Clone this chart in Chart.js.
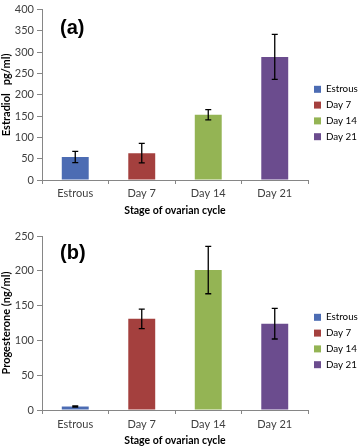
<!DOCTYPE html>
<html>
<head>
<meta charset="utf-8">
<script src="https://cdn.jsdelivr.net/npm/chart.js@4/dist/chart.umd.min.js"></script>
<style>
  body { margin: 0; background: #fff; }
  canvas { display: block; }
</style>
</head>
<body>
<canvas id="chart_a" width="360" height="220"></canvas>
<canvas id="chart_b" width="360" height="226"></canvas>
<script>
const stages = ["Estrous", "Day 7", "Day 14", "Day 21"];
const estradiol = [54, 63, 153, 289];
const estradiolErr = [13, 23, 12, 53];
const progesterone = [5, 131, 201, 124];
const progesteroneErr = [1, 14, 34, 22];
const barColors = ["#4C6CB3", "#A4403E", "#94B454", "#6B4C8E"];

const axisGray = "#868686";
const textGray = "#404040";
const fontFamily = "Lato, 'Open Sans', sans-serif";

// error bars, drawn from each bar's own position and the y scale
const errorBars = {
  id: "errorBars",
  afterDatasetsDraw(chart, args, opts) {
    const ctx = chart.ctx;
    const y = chart.scales.y;
    const meta = chart.getDatasetMeta(0);
    const values = chart.data.datasets[0].data;
    ctx.save();
    ctx.strokeStyle = "#000";
    ctx.lineWidth = 1.3;
    meta.data.forEach((bar, i) => {
      const e = opts.errors[i];
      const top = y.getPixelForValue(values[i] + e);
      const bot = y.getPixelForValue(values[i] - e);
      ctx.beginPath();
      ctx.moveTo(bar.x, top); ctx.lineTo(bar.x, bot);
      ctx.moveTo(bar.x - 3, top); ctx.lineTo(bar.x + 3, top);
      ctx.moveTo(bar.x - 3, bot); ctx.lineTo(bar.x + 3, bot);
      ctx.stroke();
    });
    ctx.restore();
  }
};

// "(a)" / "(b)" panel letters
const panelLabel = {
  id: "panelLabel",
  afterDraw(chart, args, opts) {
    const ctx = chart.ctx;
    ctx.save();
    ctx.font = "bold 20px 'Liberation Sans', Arial, sans-serif";
    ctx.fillStyle = "#000";
    ctx.textBaseline = "middle";
    ctx.fillText(opts.text, chart.chartArea.left + opts.dx, chart.chartArea.top + opts.dy);
    ctx.restore();
  }
};

function makeConfig(values, errors, yMax, yTitle, label, pad, xHeight, xTickPad, xTitlePad) {
  return {
    type: "bar",
    data: {
      labels: stages,
      datasets: [{
        data: values,
        backgroundColor: barColors,
        borderWidth: 0,
        categoryPercentage: 1,
        barPercentage: 0.405
      }]
    },
    options: {
      responsive: false,
      animation: false,
      layout: { padding: pad },
      plugins: {
        tooltip: { enabled: false },
        legend: {
          position: "right",
          align: "center",
          maxWidth: 52,
          onClick: null,
          labels: {
            boxWidth: 7,
            boxHeight: 7,
            padding: 6,
            color: textGray,
            font: { family: fontFamily, size: 9.8, lineHeight: 1.4 },
            generateLabels: (chart) => stages.map((s, i) => ({
              text: s,
              fillStyle: barColors[i],
              strokeStyle: barColors[i],
              lineWidth: 0,
              hidden: false,
              index: i
            }))
          }
        },
        errorBars: { errors: errors },
        panelLabel: label
      },
      scales: {
        x: {
          afterFit: (s) => { s.height = xHeight; },
          grid: { drawOnChartArea: false, tickLength: 4, color: axisGray },
          border: { color: axisGray },
          ticks: { color: textGray, padding: xTickPad, font: { family: fontFamily, size: 11 } },
          title: {
            display: true,
            text: "Stage of ovarian cycle",
            color: "#000",
            padding: { top: 0, bottom: xTitlePad },
            font: { family: fontFamily, size: 10.5, weight: "bold", lineHeight: 1 }
          }
        },
        y: {
          min: 0,
          max: yMax,
          afterFit: (s) => { s.width = 42; },
          grid: { drawOnChartArea: false, tickLength: 5, color: axisGray },
          border: { color: axisGray },
          ticks: { stepSize: 50, color: textGray, padding: 3, font: { family: fontFamily, size: 11 } },
          title: {
            display: true,
            text: yTitle,
            color: "#000",
            padding: 0,
            font: { family: fontFamily, size: 11, weight: "bold" }
          }
        }
      }
    },
    plugins: [errorBars, panelLabel]
  };
}

new Chart(document.getElementById("chart_a"),
  makeConfig(estradiol, estradiolErr, 400, "Estradiol   pg/ml)",
    { text: "(a)", dx: 18, dy: 19 }, { top: 6, bottom: 0 }, 40, 3, 4));

new Chart(document.getElementById("chart_b"),
  makeConfig(progesterone, progesteroneErr, 250, "Progesterone (ng/ml)",
    { text: "(b)", dx: 18, dy: 17 }, { top: 16, bottom: 0 }, 36, 4, 0));
</script>
</body>
</html>
